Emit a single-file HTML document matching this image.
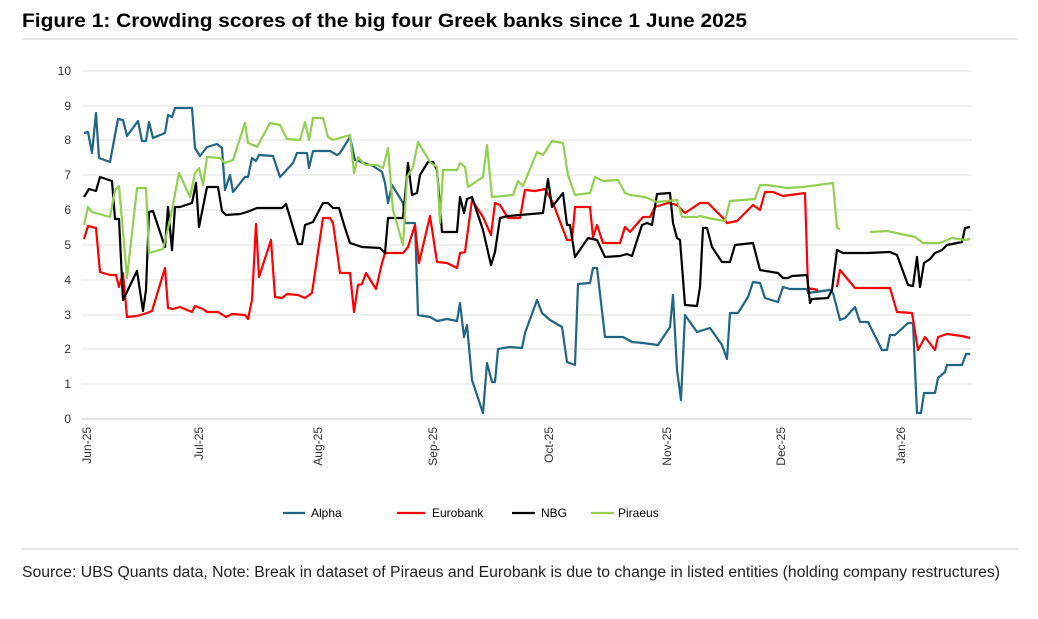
<!DOCTYPE html>
<html><head><meta charset="utf-8"><style>
body{margin:0;background:#fff;width:1038px;height:614px;overflow:hidden;font-family:"Liberation Sans",sans-serif}
</style></head><body>
<svg width="1038" height="614" xmlns="http://www.w3.org/2000/svg" font-family="Liberation Sans, sans-serif">
<text x="22" y="27" font-size="19" font-weight="bold" fill="#000" textLength="725" lengthAdjust="spacingAndGlyphs">Figure 1: Crowding scores of the big four Greek banks since 1 June 2025</text>
<line x1="22" y1="39" x2="1018" y2="39" stroke="#ccc" stroke-width="1"/>
<g stroke="#e6e6e6" stroke-width="1.2">
<line x1="82" y1="71" x2="972" y2="71"/><line x1="82" y1="106" x2="972" y2="106"/><line x1="82" y1="140" x2="972" y2="140"/><line x1="82" y1="175" x2="972" y2="175"/><line x1="82" y1="210" x2="972" y2="210"/><line x1="82" y1="245" x2="972" y2="245"/><line x1="82" y1="280" x2="972" y2="280"/><line x1="82" y1="315" x2="972" y2="315"/><line x1="82" y1="349" x2="972" y2="349"/><line x1="82" y1="384" x2="972" y2="384"/>
</g>
<line x1="82" y1="419" x2="972" y2="419" stroke="#d0d0d0" stroke-width="1.2"/>
<g font-size="12" fill="#333" text-anchor="end">
<text x="71" y="75">10</text><text x="71" y="110">9</text><text x="71" y="144">8</text><text x="71" y="179">7</text><text x="71" y="214">6</text><text x="71" y="249">5</text><text x="71" y="284">4</text><text x="71" y="319">3</text><text x="71" y="353">2</text><text x="71" y="388">1</text><text x="71" y="423">0</text>
</g>
<g font-size="12" fill="#333" text-anchor="end">
<text transform="translate(91,427) rotate(-90)">Jun-25</text>
<text transform="translate(203,427) rotate(-90)">Jul-25</text>
<text transform="translate(322,427) rotate(-90)">Aug-25</text>
<text transform="translate(437,427) rotate(-90)">Sep-25</text>
<text transform="translate(553,427) rotate(-90)">Oct-25</text>
<text transform="translate(671,427) rotate(-90)">Nov-25</text>
<text transform="translate(785,427) rotate(-90)">Dec-25</text>
<text transform="translate(905,427) rotate(-90)">Jan-26</text>
</g>
<g fill="none" stroke-width="2.2" stroke-linejoin="round">
<polyline stroke="#1f6584" points="84,133 88,132 92,153 96,113 99,158 110,162 118,119 123,120 127,136 138,121 142,141 146,141 149,122 153,138 165,133 168,115 172,117 175,108 192,108 195,148 200,156 207,147 217,144 222,148 225,190 230,175 233,192 245,177 248,177 252,158 256,161 259,155 273,156 280,177 293,163 297,153 307,153 309,168 313,151 330,151 337,155 340,153 350,137 355,160 373,166 382,172 385,183 388,203 392,185 403,203 405,223 415,223 418,315 430,317 437,321 447,319 457,321 460,303 464,337 467,325 472,380 483,413 487,363 492,382 495,382 498,349 510,347 522,348 525,333 537,300 542,313 550,320 562,327 567,362 575,365 578,284 590,283 593,268 597,268 605,337 623,337 632,342 643,343 658,345 670,327 673,295 677,370 681,400 685,315 697,332 710,328 722,345 727,359 730,313 738,313 748,297 753,282 760,283 765,298 778,302 783,287 790,289 807,289 808,293 830,290 833,293 840,320 845,318 855,307 860,322 868,322 882,350 887,350 890,335 895,335 908,323 913,323 917,413 921,413 924,393 935,393 938,378 945,372 947,365 962,365 966,354 970,354"/>
<polyline stroke="#ff0000" points="84,239 88,226 96,228 100,272 110,275 116,275 119,287 123,273 127,317 137,316 147,313 152,311 165,268 168,308 173,309 180,307 192,312 195,306 203,309 207,312 218,312 226,317 232,314 245,315 248,319 252,300 256,224 259,277 271,240 275,297 282,298 287,294 298,295 305,298 312,293 323,218 330,218 333,223 340,273 350,273 354,312 358,285 362,284 366,273 376,289 382,263 385,253 403,253 408,247 415,225 419,263 430,216 437,262 447,263 457,268 460,253 465,252 472,200 483,217 491,235 495,203 500,205 508,218 513,218 520,218 525,190 535,191 545,189 553,203 567,240 572,240 575,207 590,207 593,237 597,225 603,243 620,243 625,227 630,232 643,217 650,217 655,207 668,203 677,205 685,213 700,203 708,203 713,208 725,220 727,223 737,221 753,205 760,210 765,192 773,192 783,196 805,193 808,288 818,290"/>
<polyline stroke="#ff0000" points="837,287 840,270 855,288 890,288 897,312 912,313 918,350 925,337 935,350 938,337 947,334 962,336 970,338"/>
<polyline stroke="#000" points="84,197 89,189 96,191 100,177 112,181 115,219 119,219 123,300 137,271 143,311 146,290 149,212 153,211 165,247 168,207 172,250 175,207 180,207 192,203 196,183 199,227 207,187 218,187 222,211 226,215 240,214 247,212 257,208 282,208 286,204 298,244 302,244 305,225 313,222 323,203 328,203 333,208 339,208 345,228 350,243 362,247 380,248 385,253 388,218 403,218 408,163 412,195 417,193 420,175 428,162 433,162 437,170 442,232 457,232 460,197 464,213 467,199 472,197 483,230 491,265 495,252 500,218 508,216 520,215 543,213 548,179 552,207 563,193 567,225 570,225 575,257 588,238 597,240 605,257 620,256 627,254 632,256 642,225 647,223 652,225 657,194 670,193 673,223 677,238 680,240 685,305 697,306 700,287 703,228 707,228 712,247 722,262 730,262 735,245 753,243 760,270 778,273 783,278 788,278 792,276 807,275 810,303 812,299 828,298 832,290 837,250 843,253 867,253 890,252 897,255 908,285 913,286 917,257 920,287 924,263 930,259 935,253 942,250 947,245 962,242 965,228 970,227"/>
<polyline stroke="#92d050" points="84,225 88,207 92,212 110,217 115,190 119,186 127,278 137,188 146,188 149,253 163,249 170,220 179,173 190,197 195,173 199,168 203,185 207,157 220,158 225,163 233,160 245,123 248,143 253,145 257,147 270,123 280,125 287,139 300,140 305,122 309,140 313,118 323,118 328,137 333,140 350,135 354,173 358,157 365,165 377,165 383,168 388,148 393,210 403,245 407,177 413,167 418,142 430,162 437,167 440,223 443,170 457,170 460,163 465,167 468,187 483,177 487,145 492,197 503,196 513,195 518,181 523,186 537,152 543,155 552,141 563,143 568,175 575,195 590,193 595,177 603,181 618,180 625,193 630,195 645,197 657,202 677,200 682,217 697,217 700,216 713,219 725,221 730,201 755,199 760,185 767,185 787,188 803,187 810,186 833,183 837,228 840,229"/>
<polyline stroke="#92d050" points="870,232 887,231 915,237 923,243 940,243 952,238 965,240 970,239"/>
</g>
<g font-size="12" fill="#000">
<line x1="283" y1="513" x2="305" y2="513" stroke="#1f6584" stroke-width="2.2"/><text x="311" y="517">Alpha</text>
<line x1="397" y1="513" x2="425" y2="513" stroke="#ff0000" stroke-width="2.2"/><text x="432" y="517">Eurobank</text>
<line x1="512" y1="513" x2="535" y2="513" stroke="#000" stroke-width="2.2"/><text x="541" y="517">NBG</text>
<line x1="591" y1="513" x2="614" y2="513" stroke="#92d050" stroke-width="2.2"/><text x="618" y="517">Piraeus</text>
</g>
<line x1="22" y1="549" x2="1018" y2="549" stroke="#ccc" stroke-width="1"/>
<text x="22" y="577" font-size="15.5" fill="#222" textLength="978" lengthAdjust="spacingAndGlyphs">Source: UBS Quants data, Note: Break in dataset of Piraeus and Eurobank is due to change in listed entities (holding company restructures)</text>
</svg>
</body></html>
